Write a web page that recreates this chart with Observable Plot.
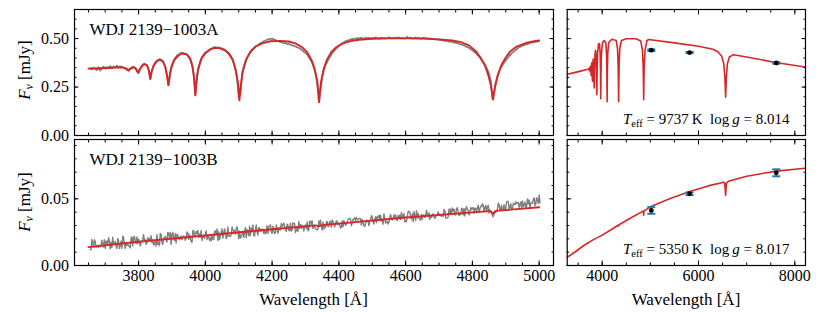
<!DOCTYPE html>
<html><head><meta charset="utf-8">
<script src="https://cdn.jsdelivr.net/npm/d3@7"></script>
<script src="https://cdn.jsdelivr.net/npm/@observablehq/plot@0.6"></script>
<style>
body{margin:0;background:#fff;}
#fig{position:relative;width:830px;height:312px;overflow:hidden;background:#fff;font-family:"Liberation Serif","DejaVu Serif","Noto Serif",serif;}
#fig > svg{position:absolute;}
.lab{position:absolute;font-family:"Liberation Serif","DejaVu Serif","Noto Serif",serif;font-size:17px;white-space:nowrap;color:#000;line-height:17px;}
.ylab{transform:translate(-50%,-50%) rotate(-90deg);}
.xlab{transform:translateX(-50%);}
.sub{font-size:70%;position:relative;top:0.25em;font-style:italic;}
</style></head><body><div id="fig"></div>
<script>
// ---------- data ----------
const names = ["WDJ 2139\u22121003A", "WDJ 2139\u22121003B"];
const teffs = ["9737", "5350"];
const loggs = ["8.014", "8.017"];

// observed spectrum A: 5 Å sampling, 3655–5000 Å
const obsWaveA = d3.range(3655, 5001, 5);
const obsA = [
.347,.341,.350,.344,.338,.352,.335,.349,.355,.346,
.353,.350,.358,.347,.356,.352,.360,.351,.357,.354,
.350,.344,.338,.333,.344,.352,.355,.348,.332,.322,
.344,.360,.370,.368,.362,.340,.290,.334,.362,.378,
.386,.392,.394,.388,.377,.352,.312,.262,.330,.365,
.386,.400,.412,.418,.425,.428,.424,.422,.418,.405,
.392,.366,.318,.212,.305,.352,.384,.405,.418,.428,
.434,.440,.447,.449,.455,.456,.452,.455,.450,.449,
.446,.440,.434,.427,.414,.398,.378,.345,.298,.195,
.215,.318,.355,.382,.400,.418,.428,.442,.448,.458,
.463,.468,.476,.480,.486,.490,.494,.497,.498,.500,
.496,.492,.488,.486,.482,.480,.476,.478,.472,.474,
.468,.466,.462,.460,.454,.452,.446,.440,.432,.426,
.418,.404,.390,.376,.352,.322,.278,.175,.238,.300,
.338,.364,.380,.398,.410,.424,.434,.446,.452,.462,
.468,.475,.480,.486,.490,.492,.495,.498,.497,.500,
.503,.499,.504,.502,.498,.505,.501,.503,.499,.504,
.500,.506,.502,.499,.505,.501,.504,.500,.503,.507,
.501,.504,.500,.505,.502,.506,.501,.503,.499,.504,
.508,.502,.505,.500,.503,.506,.501,.504,.499,.502,
.505,.500,.503,.498,.501,.497,.499,.494,.497,.493,
.495,.490,.491,.487,.489,.484,.486,.482,.480,.478,
.476,.474,.470,.468,.465,.460,.456,.452,.445,.440,
.432,.426,.416,.408,.396,.384,.372,.358,.340,.318,
.284,.190,.225,.272,.305,.330,.348,.362,.376,.388,
.398,.410,.418,.428,.434,.442,.448,.456,.458,.464,
.466,.472,.470,.477,.478,.482,.480,.486,.484,.489];

// observed spectrum B: 2.5 Å sampling, 3655–5002.5 Å
const obsWaveB = d3.range(3655, 5003, 2.5);
const obsB = [
.0118,.0119,.0196,.0169,.0139,.0193,.0183,.0136,.0142,.0150,.0136,.0153,.0148,.0142,.0189,.0160,.0138,.0194,.0129,.0181,
.0184,.0154,.0208,.0190,.0125,.0173,.0135,.0212,.0164,.0159,.0180,.0144,.0128,.0202,.0185,.0127,.0149,.0183,.0129,.0220,
.0212,.0154,.0129,.0174,.0151,.0160,.0147,.0143,.0132,.0205,.0214,.0146,.0212,.0218,.0183,.0164,.0214,.0162,.0198,.0179,
.0146,.0175,.0181,.0197,.0232,.0187,.0195,.0159,.0168,.0209,.0196,.0202,.0183,.0224,.0171,.0191,.0154,.0160,.0188,.0145,
.0232,.0158,.0175,.0149,.0241,.0233,.0169,.0158,.0203,.0207,.0218,.0200,.0176,.0248,.0243,.0208,.0247,.0157,.0235,.0250,
.0204,.0188,.0241,.0169,.0235,.0226,.0219,.0193,.0204,.0221,.0194,.0213,.0222,.0214,.0189,.0203,.0252,.0244,.0197,.0231,
.0198,.0183,.0172,.0261,.0262,.0216,.0235,.0256,.0237,.0263,.0211,.0237,.0211,.0263,.0187,.0222,.0220,.0203,.0241,.0259,
.0195,.0221,.0218,.0189,.0208,.0184,.0231,.0196,.0194,.0255,.0260,.0233,.0275,.0188,.0254,.0194,.0219,.0243,.0276,.0205,
.0241,.0274,.0245,.0202,.0213,.0289,.0221,.0222,.0218,.0233,.0290,.0270,.0252,.0263,.0235,.0277,.0291,.0258,.0202,.0259,
.0205,.0217,.0234,.0257,.0209,.0252,.0286,.0208,.0270,.0256,.0223,.0294,.0224,.0279,.0261,.0304,.0225,.0221,.0270,.0304,
.0251,.0229,.0283,.0281,.0254,.0271,.0272,.0272,.0240,.0267,.0238,.0248,.0300,.0240,.0289,.0296,.0305,.0252,.0240,.0294,
.0261,.0240,.0245,.0304,.0274,.0242,.0271,.0286,.0266,.0315,.0292,.0301,.0318,.0296,.0270,.0256,.0310,.0302,.0264,.0261,
.0318,.0257,.0269,.0321,.0312,.0313,.0248,.0262,.0286,.0257,.0331,.0279,.0307,.0279,.0303,.0288,.0258,.0298,.0304,.0277,
.0327,.0260,.0268,.0333,.0333,.0308,.0334,.0276,.0296,.0288,.0279,.0270,.0266,.0274,.0334,.0308,.0339,.0294,.0266,.0326,
.0273,.0300,.0286,.0326,.0330,.0292,.0294,.0330,.0329,.0287,.0342,.0329,.0313,.0289,.0312,.0336,.0330,.0307,.0316,.0301,
.0281,.0285,.0335,.0291,.0338,.0317,.0302,.0309,.0329,.0347,.0349,.0355,.0349,.0297,.0321,.0347,.0349,.0358,.0335,.0360,
.0350,.0342,.0349,.0354,.0350,.0303,.0346,.0327,.0299,.0293,.0316,.0337,.0340,.0332,.0299,.0335,.0341,.0374,.0366,.0328,
.0311,.0343,.0366,.0321,.0366,.0357,.0377,.0349,.0377,.0331,.0343,.0310,.0388,.0354,.0318,.0326,.0332,.0311,.0324,.0357,
.0383,.0346,.0341,.0347,.0379,.0361,.0379,.0343,.0337,.0376,.0358,.0377,.0344,.0399,.0368,.0361,.0390,.0326,.0337,.0330,
.0365,.0405,.0405,.0404,.0356,.0349,.0388,.0329,.0405,.0367,.0337,.0411,.0358,.0391,.0355,.0346,.0340,.0383,.0347,.0380,
.0380,.0359,.0376,.0415,.0384,.0367,.0395,.0346,.0364,.0361,.0381,.0389,.0365,.0353,.0367,.0373,.0382,.0401,.0387,.0375,
.0376,.0370,.0380,.0369,.0420,.0412,.0356,.0355,.0357,.0365,.0424,.0392,.0422,.0384,.0431,.0408,.0422,.0388,.0378,.0428,
.0434,.0403,.0374,.0383,.0383,.0430,.0424,.0380,.0427,.0371,.0423,.0442,.0418,.0415,.0379,.0398,.0436,.0419,.0430,.0434,
.0392,.0430,.0428,.0405,.0433,.0453,.0401,.0425,.0445,.0443,.0464,.0450,.0405,.0436,.0452,.0404,.0436,.0452,.0394,.0416,
.0412,.0398,.0375,.0365,.0385,.0398,.0398,.0413,.0420,.0468,.0458,.0414,.0420,.0452,.0412,.0422,.0456,.0421,.0420,.0476,
.0481,.0480,.0418,.0440,.0464,.0421,.0429,.0466,.0462,.0455,.0478,.0465,.0469,.0473,.0436,.0459,.0477,.0432,.0484,.0442,
.0452,.0476,.0433,.0447,.0499,.0461,.0491,.0429,.0468,.0472,.0467,.0496,.0508,.0449,.0463,.0509,.0492,.0464,.0530,.0470];

// model spectrum A (spectroscopic range)
const modAWave = [3650,3670,3690,3710,3730,3748,3758,3765,3770,3776,3785,3792,3798,3804,3812,3820,3826,3831,3835,3839,3845,3855,3863,3872,3880,3885,3889,3893,3898,3908,3920,3932,3945,3955,3962,3967,3970,3973,3978,3988,4000,4015,4030,4045,4060,4072,4082,4092,4098,4102,4106,4112,4122,4135,4150,4170,4195,4225,4250,4270,4290,4305,4318,4328,4335,4339,4341,4343,4347,4354,4364,4377,4392,4412,4435,4460,4500,4550,4600,4650,4700,4740,4766,4790,4810,4825,4838,4848,4855,4859,4862,4865,4869,4876,4886,4899,4914,4934,4960,4985,5000];
const modAFlux = [.345,.346,.347,.348,.350,.352,.349,.344,.338,.345,.352,.345,.325,.343,.362,.368,.360,.335,.293,.330,.360,.383,.390,.384,.355,.310,.259,.305,.350,.392,.414,.423,.418,.395,.352,.285,.207,.270,.340,.395,.425,.444,.452,.450,.438,.418,.390,.330,.265,.181,.255,.330,.390,.432,.458,.475,.486,.488,.485,.475,.455,.430,.390,.340,.280,.220,.172,.220,.280,.340,.390,.430,.455,.475,.487,.494,.499,.501,.501,.500,.496,.490,.482,.465,.435,.400,.360,.310,.260,.220,.185,.220,.260,.310,.360,.400,.435,.460,.477,.486,.490];

// model spectrum B (spectroscopic range)
const modBWave = [3650,3800,4000,4200,4330,4340,4350,4600,4850,4856,4861,4866,4872,5000];
const modBFlux = [.0138,.0178,.0225,.0272,.0301,.0294,.0303,.0360,.0408,.0402,.0388,.0402,.0410,.0437];

// broad-band model spectra
const sedAWave = [3273,3400,3550,3680,3720,3735,3742,3750,3758,3771,3784,3798,3812,3835,3850,3862,3875,3883,3889,3895,3905,3925,3945,3958,3965,3970,3975,3983,4005,4040,4075,4090,4097,4102,4107,4114,4135,4200,4290,4318,4330,4336,4341,4346,4352,4366,4400,4500,4700,4800,4835,4850,4856,4861,4866,4873,4890,4930,4960,5500,6000,6300,6400,6480,6525,6548,6563,6578,6600,6640,6730,7000,7600,8222];
const sedAFlux = [.316,.323,.332,.340,.343,.336,.350,.330,.358,.310,.375,.280,.395,.245,.420,.440,.410,.330,.210,.330,.430,.475,.470,.420,.320,.190,.320,.420,.478,.490,.478,.420,.320,.174,.320,.420,.480,.496,.490,.450,.370,.280,.174,.280,.370,.450,.490,.499,.499,.488,.440,.360,.280,.185,.280,.360,.440,.490,.495,.478,.460,.445,.432,.410,.370,.300,.198,.300,.370,.405,.417,.405,.377,.353];
const sedBWave = [3273,3450,3618,3800,4000,4200,4330,4340,4350,4600,4850,4856,4861,4866,4872,5000,5400,5818,6200,6520,6545,6563,6580,6620,7000,7618,8222];
const sedBFlux = [.0062,.0105,.0150,.0190,.0228,.0272,.0302,.0296,.0306,.0358,.0408,.0400,.0378,.0400,.0410,.0440,.0500,.0555,.0597,.0625,.0617,.0525,.0618,.0632,.0670,.0708,.0730];

// photometry (Gaia BP, G, RP)
const photWave = [5020, 5815, 7615];
const photA = [0.440, 0.428, 0.374];
const photAErr = [0.004, 0.003, 0.004];
const photB = [0.0413, 0.0538, 0.0695];
const photBErr = [0.0025, 0.0010, 0.0026];

// ticks
const xMajorL = [3800, 4000, 4200, 4400, 4600, 4800, 5000];
const xMinorL = d3.range(3650, 5001, 50);
const xMajorR = [4000, 6000, 8000];
const xMinorR = d3.range(3500, 8201, 500);
const yMajorA = [0, 0.25, 0.5];
const yMinorA = d3.range(0, 0.651, 0.05);
const yMajorB = [0, 0.05];
const yMinorB = d3.range(0, 0.0945, 0.01);

// ---------- drawing ----------
const FONT = '"Liberation Serif", "DejaVu Serif", "Noto Serif", serif';
const RED = "#d62728", GRAY = "#808080", BLUE = "#1f77b4";
const fig = document.getElementById("fig");
const capSymbol = {draw(ctx, size) { const r = Math.sqrt(size / Math.PI); ctx.moveTo(-r, 0); ctx.lineTo(r, 0); }};

function axes(o) {
  const maj = 4.5, min = 2.5;
  const fmtY = d3.format(".2f"), fmtX = d3.format("d");
  return [
    Plot.frame({stroke: "black", strokeWidth: 1.2}),
    Plot.axisX({ticks: o.xMajor, anchor: "bottom", tickSize: -maj, tickPadding: 9, tickFormat: fmtX, stroke: "black", fill: o.xLabels ? "black" : "none", label: null, fontSize: 16}),
    Plot.axisX({ticks: o.xMinor, anchor: "bottom", tickSize: -min, stroke: "black", fill: "none", label: null}),
    Plot.axisX({ticks: o.xMajor, anchor: "top", tickSize: -maj, stroke: "black", fill: "none", label: null}),
    Plot.axisX({ticks: o.xMinor, anchor: "top", tickSize: -min, stroke: "black", fill: "none", label: null}),
    Plot.axisY({ticks: o.yMajor, anchor: "left", tickSize: -maj, tickPadding: 10, tickFormat: fmtY, stroke: "black", fill: o.yLabels ? "black" : "none", label: null, fontSize: 16}),
    Plot.axisY({ticks: o.yMinor, anchor: "left", tickSize: -min, stroke: "black", fill: "none", label: null}),
    Plot.axisY({ticks: o.yMajor, anchor: "right", tickSize: -maj, stroke: "black", fill: "none", label: null}),
    Plot.axisY({ticks: o.yMinor, anchor: "right", tickSize: -min, stroke: "black", fill: "none", label: null})
  ];
}

function panel(o) {
  const svg = Plot.plot({
    width: o.w, height: o.h,
    marginLeft: o.ml, marginRight: o.mr, marginTop: o.mt, marginBottom: o.mb,
    x: {domain: o.xd}, y: {domain: o.yd},
    style: {fontFamily: FONT, fontSize: "16px", background: "transparent", overflow: "visible", color: "black"},
    marks: [...o.marks, ...axes(o)]
  });
  svg.style.left = o.left + "px";
  svg.style.top = o.top + "px";
  fig.appendChild(svg);
  return svg;
}

function richAnnot(svg, teff, logg) {
  const t = d3.select(svg).selectAll("text").filter(function() { return this.textContent.startsWith("Teff"); });
  t.text("").style("white-space", "pre");
  t.append("tspan").attr("font-style", "italic").text("T");
  t.append("tspan").attr("font-size", "10.5px").attr("dy", "3").text("eff");
  t.append("tspan").attr("dy", "-3").text(" = " + teff + "\u2009K\u2002log\u2009");
  t.append("tspan").attr("font-style", "italic").text("g");
  t.append("tspan").text(" = " + logg);
}

function specMarks(wave, obs, obsW, mw, mf, name) {
  return [
    Plot.lineY(obs, {x: wave, y: obs, stroke: GRAY, strokeWidth: obsW, clip: true}),
    Plot.lineY(mf, {x: mw, y: mf, stroke: RED, strokeWidth: 1.9, clip: true}),
    Plot.text([name], {frameAnchor: "top-left", textAnchor: "start", lineAnchor: "bottom", dx: 15, dy: 25, fontSize: 17, fill: "black"})
  ];
}

function sedMarks(mw, mf, pv, pe, label) {
  const lo = pv.map((v, i) => v - pe[i]);
  const hi = pv.map((v, i) => v + pe[i]);
  return [
    Plot.lineY(mf, {x: mw, y: mf, stroke: RED, strokeWidth: 1.6, clip: true}),
    Plot.ruleX(pv, {x: photWave, y1: lo, y2: hi, stroke: BLUE, strokeWidth: 1.6}),
    Plot.dot(pv, {x: photWave, y: lo, r: 4, symbol: capSymbol, stroke: BLUE, strokeWidth: 2, fill: "none"}),
    Plot.dot(pv, {x: photWave, y: hi, r: 4, symbol: capSymbol, stroke: BLUE, strokeWidth: 2, fill: "none"}),
    Plot.dot(pv, {x: photWave, y: pv, r: 2.4, fill: "black", stroke: "none"}),
    Plot.text([label], {frameAnchor: "bottom-right", textAnchor: "end", lineAnchor: "bottom", dx: -16, dy: -12, fontSize: 15, fill: "black"})
  ];
}

const leftX = {xd: [3608, 5043], xMajor: xMajorL, xMinor: xMinorL};
const rightX = {xd: [3273, 8222], xMajor: xMajorR, xMinor: xMinorR};
const topY = {yd: [0, 0.65], yMajor: yMajorA, yMinor: yMinorA};
const botY = {yd: [0, 0.0945], yMajor: yMajorB, yMinor: yMinorB};

panel({left: 0, top: 0, w: 560, h: 140, ml: 74, mr: 7, mt: 9, mb: 5, ...leftX, ...topY, xLabels: false, yLabels: true,
  marks: specMarks(obsWaveA, obsA, 1.8, modAWave, modAFlux, names[0])});
panel({left: 0, top: 135, w: 560, h: 177, ml: 74, mr: 7, mt: 4, mb: 47, ...leftX, ...botY, xLabels: true, yLabels: true,
  marks: specMarks(obsWaveB, obsB, 1.4, modBWave, modBFlux, names[1])});
const trSvg = panel({left: 560, top: 0, w: 270, h: 140, ml: 6.7, mr: 25, mt: 9, mb: 5, ...rightX, ...topY, xLabels: false, yLabels: false,
  marks: sedMarks(sedAWave, sedAFlux, photA, photAErr, "Teff = " + teffs[0] + " K log g = " + loggs[0])});
const brSvg = panel({left: 560, top: 135, w: 270, h: 177, ml: 6.7, mr: 25, mt: 4, mb: 47, ...rightX, ...botY, xLabels: true, yLabels: false,
  marks: sedMarks(sedBWave, sedBFlux, photB, photBErr, "Teff = " + teffs[1] + " K log g = " + loggs[1])});
richAnnot(trSvg, teffs[0], loggs[0]);
richAnnot(brSvg, teffs[1], loggs[1]);

// axis titles
function addLab(html, cls, left, top) {
  const d = document.createElement("div");
  d.className = "lab " + cls;
  d.style.left = left + "px";
  d.style.top = top + "px";
  d.innerHTML = html;
  fig.appendChild(d);
}
const yTitle = '<i>F</i><span class="sub">\u03bd</span> [mJy]';
addLab(yTitle, "ylab", 25, 70);
addLab(yTitle, "ylab", 25, 202);
addLab("Wavelength [\u00c5]", "xlab", 313.5, 291);
addLab("Wavelength [\u00c5]", "xlab", 686, 291);
</script></body></html>
